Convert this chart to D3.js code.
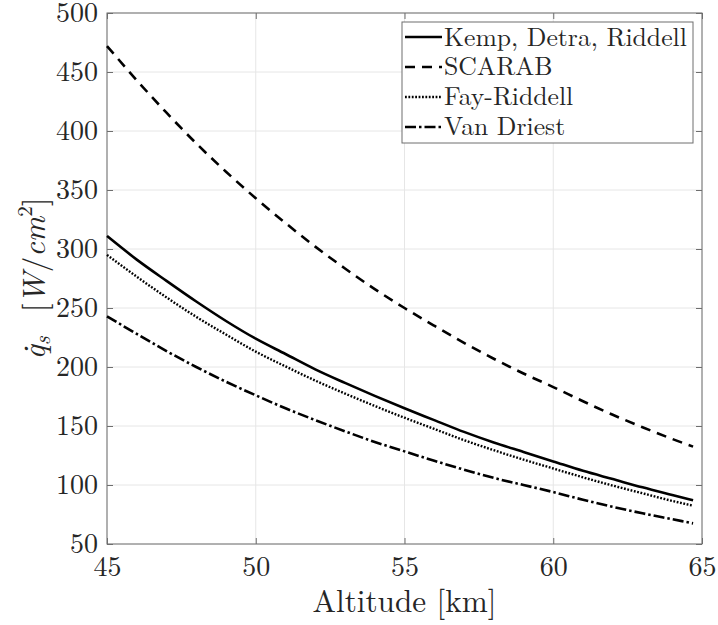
<!DOCTYPE html>
<html>
<head>
<meta charset="utf-8">
<script src="https://cdn.jsdelivr.net/npm/d3@7"></script>
<style>
  html, body { margin: 0; padding: 0; background: #fff; }
  svg { display: block; }
  svg text { font-family: "Latin Modern Roman", "CMU Serif", "Liberation Serif", "DejaVu Serif", "Noto Serif", "Nimbus Roman", "FreeSerif", "Times New Roman", Times, serif !important; fill: #262626; }
</style>
</head>
<body>
<svg id="chart" width="718" height="625"></svg>
<script>
// ---- data ----
const altitude   = [45, 46, 47, 48, 49, 50, 51, 52, 53, 54, 55, 56, 57, 58, 59, 60, 61, 62, 63, 64, 64.7];
const kempDetra  = [311, 291, 273, 255.5, 239, 224, 211, 198, 186.5, 175.5, 165, 155, 145, 136, 128, 120, 112, 105, 98, 91.5, 87];
const scarab     = [472, 443, 415.5, 389.5, 365.5, 343, 322, 302, 283.5, 266, 250, 235, 220.5, 207, 194.5, 183, 171, 159.5, 149, 139, 132.5];
const fayRiddell = [295, 276.5, 259, 242.5, 227.5, 213, 200.5, 188.5, 177.5, 167, 157, 147.5, 138, 129.5, 121.5, 114, 106.5, 99.5, 93, 86.5, 82.5];
const vanDriest  = [243, 228, 213.5, 200, 187.5, 176, 165, 155, 145.5, 136.5, 128.5, 120.5, 113, 106, 100, 94, 87.5, 81.5, 76, 71, 67.5];
const seriesNames = ["Kemp, Detra, Riddell", "SCARAB", "Fay-Riddell", "Van Driest"];
const xTicks = [45, 50, 55, 60, 65];
const yTicks = [50, 100, 150, 200, 250, 300, 350, 400, 450, 500];

// ---- layout ----
const W = 718, H = 625;
const margin = { left: 107, right: 16, top: 13, bottom: 81 };
const iw = W - margin.left - margin.right;
const ih = H - margin.top - margin.bottom;

const svg = d3.select("#chart");

// font size that makes a sample string a given width (font-independent fitting)
function fitSize(sample, targetWidth) {
  const t = svg.append("text").style("font-size", "100px").text(sample);
  const w = t.node().getComputedTextLength();
  t.remove();
  return 100 * targetWidth / w;
}
const tickFont = Math.min(28, fitSize("500", 43));
const legendFont = fitSize("Kemp, Detra, Riddell", 243);
const labelFont = fitSize("Altitude [km]", 184);

const g = svg.append("g").attr("transform", `translate(${margin.left},${margin.top})`);

const x = d3.scaleLinear().domain([45, 65]).range([0, iw]);
const y = d3.scaleLinear().domain([50, 500]).range([ih, 0]);

const axisColor = "#6e6e6e";

// grid
g.append("g").selectAll("line").data(xTicks).join("line")
  .attr("x1", d => x(d)).attr("x2", d => x(d)).attr("y1", 0).attr("y2", ih)
  .attr("stroke", "#e6e6e6").attr("stroke-width", 1);
g.append("g").selectAll("line").data(yTicks).join("line")
  .attr("x1", 0).attr("x2", iw).attr("y1", d => y(d)).attr("y2", d => y(d))
  .attr("stroke", "#e6e6e6").attr("stroke-width", 1);

// axes (ticks inward)
function styleAxis(sel) {
  sel.attr("font-family", null).attr("font-size", null);
  sel.select(".domain").remove();
  sel.selectAll(".tick line").attr("stroke", axisColor).attr("stroke-width", 1);
  sel.selectAll(".tick text").style("font-size", tickFont + "px").attr("fill", "#262626");
}
const xAxis = g.append("g").attr("transform", `translate(0,${ih})`)
  .call(d3.axisBottom(x).tickValues(xTicks).tickFormat(d3.format("d")).tickSizeInner(-6).tickSizeOuter(0).tickPadding(12));
styleAxis(xAxis);
const xAxisTop = g.append("g")
  .call(d3.axisTop(x).tickValues(xTicks).tickFormat("").tickSizeInner(-6).tickSizeOuter(0));
styleAxis(xAxisTop);
const yAxis = g.append("g")
  .call(d3.axisLeft(y).tickValues(yTicks).tickFormat(d3.format("d")).tickSizeInner(-6).tickSizeOuter(0).tickPadding(9));
styleAxis(yAxis);
const yAxisRight = g.append("g").attr("transform", `translate(${iw},0)`)
  .call(d3.axisRight(y).tickValues(yTicks).tickFormat("").tickSizeInner(-6).tickSizeOuter(0));
styleAxis(yAxisRight);

// box
g.append("rect").attr("x", 0).attr("y", 0).attr("width", iw).attr("height", ih)
  .attr("fill", "none").attr("stroke", axisColor).attr("stroke-width", 1);

// lines
const styles = [
  { data: kempDetra,  dash: null,          width: 2.6 },
  { data: scarab,     dash: "10,7",        width: 2.6 },
  { data: fayRiddell, dash: "1.8,1.6",     width: 2.4 },
  { data: vanDriest,  dash: "11,3,2.5,3",  width: 2.6 }
];
const line = d3.line().x((d, i) => x(altitude[i])).y(d => y(d)).curve(d3.curveMonotoneX);
styles.forEach(s => {
  g.append("path").datum(s.data)
    .attr("d", line)
    .attr("fill", "none").attr("stroke", "#000")
    .attr("stroke-width", s.width)
    .attr("stroke-dasharray", s.dash);
});

// legend
const lg = svg.append("g").attr("transform", "translate(402,22)");
lg.append("rect").attr("width", 291).attr("height", 121)
  .attr("fill", "#fff").attr("stroke", axisColor).attr("stroke-width", 1);
seriesNames.forEach((name, i) => {
  const cy = 15 + i * 30;
  lg.append("line").attr("x1", 3).attr("x2", 40).attr("y1", cy).attr("y2", cy)
    .attr("stroke", "#000").attr("stroke-width", styles[i].width)
    .attr("stroke-dasharray", styles[i].dash);
  lg.append("text").attr("x", 42).attr("y", cy + legendFont * 0.33)
    .style("font-size", legendFont + "px").attr("fill", "#000").text(name);
});

// x label
svg.append("text")
  .attr("x", margin.left + iw / 2).attr("y", 612)
  .attr("text-anchor", "middle").style("font-size", labelFont + "px")
  .text("Altitude [km]");

// y label
const yl = svg.append("text")
  .attr("transform", `translate(45,${margin.top + ih / 2}) rotate(-90)`)
  .attr("text-anchor", "middle").style("font-size", labelFont + "px");
yl.append("tspan").style("font-style", "italic").text("q\u0307");
yl.append("tspan").style("font-style", "italic").style("font-size", (labelFont * 0.7) + "px").attr("dy", 5).text("s");
yl.append("tspan").attr("dx", 24).attr("dy", -5).text("[");
yl.append("tspan").style("font-style", "italic").text("W");
yl.append("tspan").text("/");
yl.append("tspan").style("font-style", "italic").text("cm");
yl.append("tspan").style("font-size", (labelFont * 0.68) + "px").attr("dy", -13).text("2");
yl.append("tspan").attr("dy", 13).text("]");
</script>
</body>
</html>
